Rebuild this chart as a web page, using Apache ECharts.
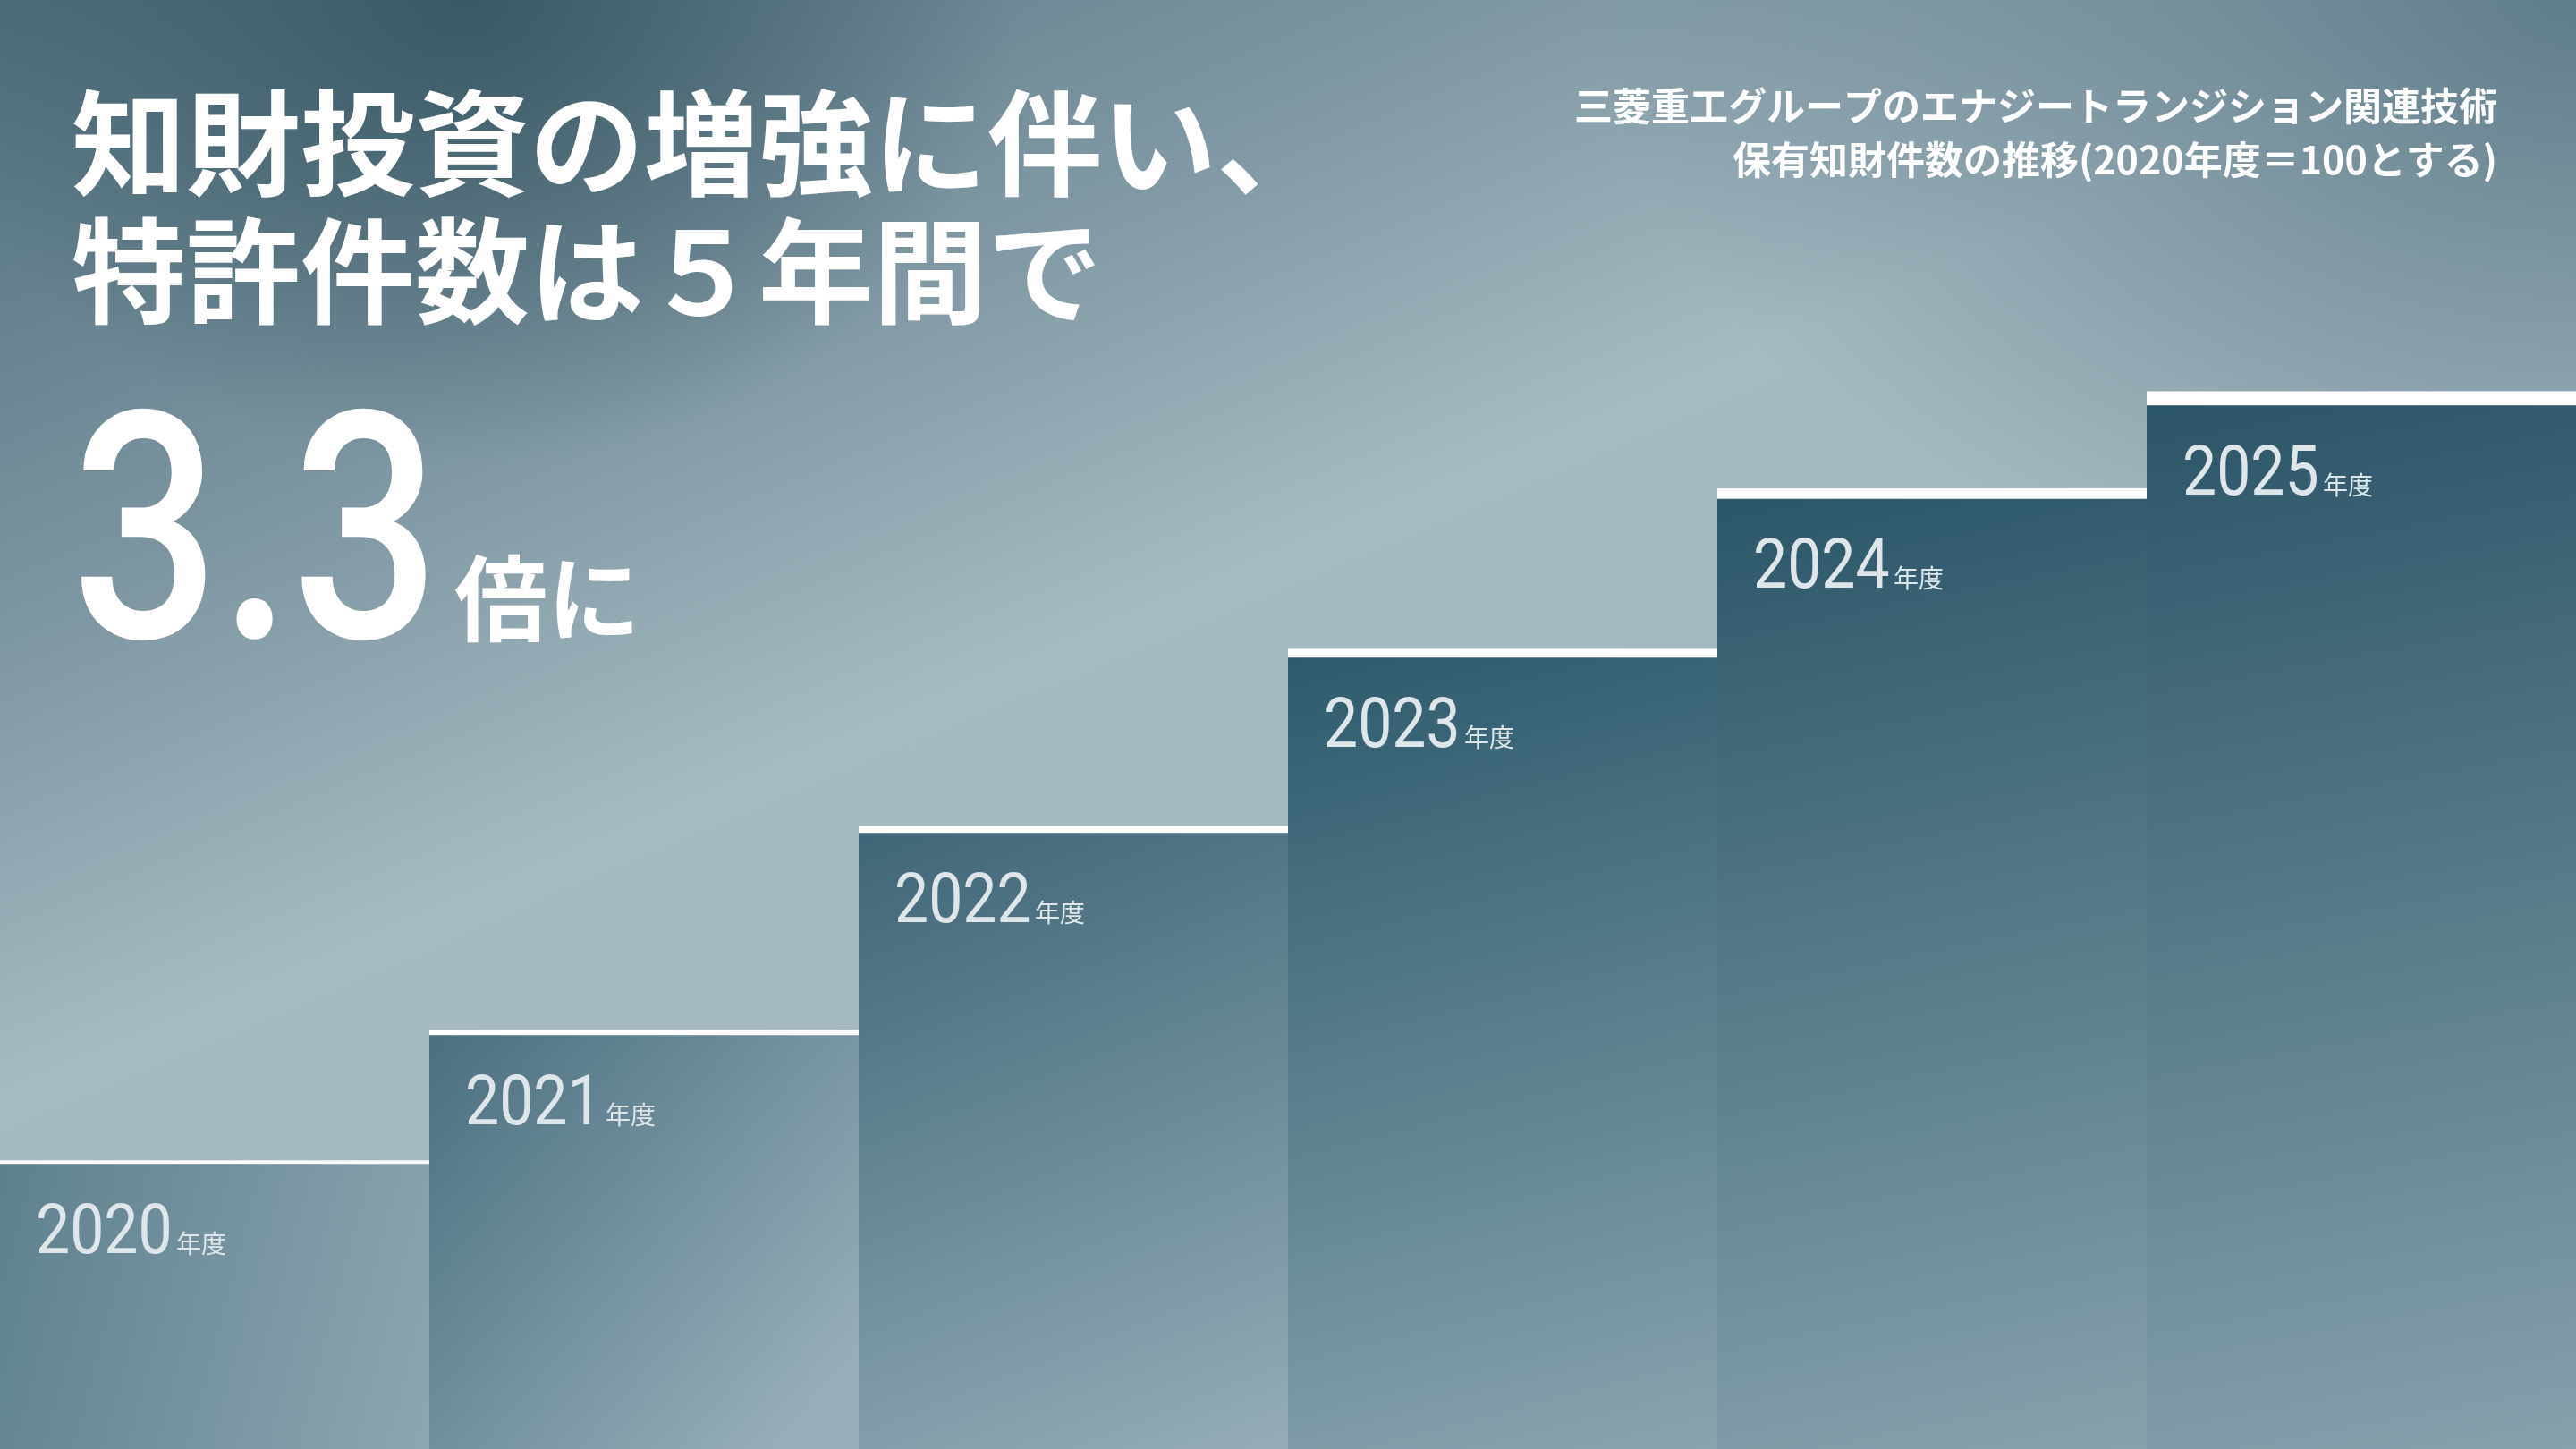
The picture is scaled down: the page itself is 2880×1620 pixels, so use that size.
<!DOCTYPE html>
<html>
<head>
    <meta charset="utf-8">
    <title>ECharts</title>
    <script src="https://cdn.jsdelivr.net/npm/echarts@6/dist/echarts.min.js"></script>
    <style>
        html, body { margin: 0; padding: 0; }
        body {
            width: 2880px; height: 1620px; overflow: hidden;
            background:
                radial-gradient(ellipse 620px 520px at 520px 0px, rgba(52, 82, 95, 0.85), rgba(52, 82, 95, 0) 100%),
                radial-gradient(ellipse 1100px 700px at 2880px 0px, rgba(88, 118, 132, 0.9), rgba(88, 118, 132, 0) 100%),
                linear-gradient(157deg, #4f6e7c 0%, #7f98a3 26%, #a6bac2 43%, #a2b6be 70%, #9cb1ba 100%);
        }
        /* 棒の0点が画面の少し下に来るよう、描画領域は画面より51px高い */
        #main { width: 2880px; height: 1671px; }
    </style>
</head>
<body>
<div id="main"></div>
<script type="text/javascript">
    // 年度と指数（2020年度＝100）
    var years = ['2020', '2021', '2022', '2023', '2024', '2025'];
    var values = [100, 139, 200, 253, 301, 330];

    // 見た目の設定（棒ごと）
    var capHeights = [4, 6, 8, 10, 12, 16];
    var topColors = ['#5e808e', '#4a6f80', '#3e6577', '#2c5a6c', '#2a5668', '#2a5467'];
    var gradDirs = [[1.32, 0.45], [0.95, 0.75], [0.64, 1.04], [0.58, 1.15], [0.56, 1.17], [0.56, 1.17]];

    var myChart = echarts.init(document.getElementById('main'));

    var option = {
        backgroundColor: 'transparent',
        animation: false,
        grid: { left: 0, right: 0, top: 26, bottom: 0 },
        xAxis: { type: 'category', data: years, show: false },
        yAxis: { type: 'value', min: 0, max: 440, show: false },
        graphic: [
            {
                type: 'text', x: 80, y: 160,
                style: { text: '知財投資の増強に伴い、', font: '700 128px "Noto Sans CJK JP"', fill: '#ffffff', verticalAlign: 'middle' }
            },
            {
                type: 'text', x: 80, y: 303,
                style: { text: '特許件数は５年間で', font: '700 128px "Noto Sans CJK JP"', fill: '#ffffff', verticalAlign: 'middle' }
            },
            {
                type: 'text', x: 80, y: 624, scaleX: 0.82,
                style: { text: '3.3', font: '500 355px Roboto', fill: '#ffffff', verticalAlign: 'middle' }
            },
            {
                type: 'text', x: 508, y: 669,
                style: { text: '倍に', font: '700 104px "Noto Sans CJK JP"', fill: '#ffffff', verticalAlign: 'middle' }
            },
            {
                type: 'text', x: 2792, y: 119,
                style: { text: '三菱重工グループのエナジートランジション関連技術', font: '700 43px "Noto Sans CJK JP"', fill: '#ffffff', align: 'right', verticalAlign: 'middle' }
            },
            {
                type: 'text', x: 2792, y: 179,
                style: { text: '保有知財件数の推移(2020年度＝100とする)', font: '700 43px "Noto Sans CJK JP"', fill: '#ffffff', align: 'right', verticalAlign: 'middle' }
            }
        ],
        series: [
            {
                type: 'custom',
                data: values.map(function (v, i) { return [i, v]; }),
                renderItem: function (params, api) {
                    var i = params.dataIndex;
                    var top = api.coord([api.value(0), api.value(1)]);
                    var base = api.coord([api.value(0), 0]);
                    var w = api.size([1, 0])[0];
                    var x = top[0] - w / 2;
                    var cap = capHeights[i];
                    var baseline = top[1] + cap + 103;
                    return {
                        type: 'group',
                        children: [
                            {
                                type: 'rect',
                                shape: { x: x, y: top[1], width: w, height: base[1] - top[1] },
                                style: {
                                    fill: new echarts.graphic.LinearGradient(0, 0, gradDirs[i][0], gradDirs[i][1], [
                                        { offset: 0, color: topColors[i] },
                                        { offset: 1, color: '#96aeb8' }
                                    ])
                                }
                            },
                            {
                                type: 'rect',
                                shape: { x: x, y: top[1], width: w, height: cap },
                                style: { fill: '#ffffff' }
                            },
                            {
                                type: 'text', x: x + 40, y: baseline - 23, scaleX: 0.87,
                                style: { text: years[i], font: '400 78px Roboto', fill: '#dfe6ea', verticalAlign: 'middle' }
                            },
                            {
                                type: 'text', x: x + 197, y: baseline - 14,
                                style: { text: '年度', font: '400 28px "Noto Sans CJK JP"', fill: '#dfe6ea', verticalAlign: 'middle' }
                            }
                        ]
                    };
                }
            }
        ]
    };
    myChart.setOption(option);
</script>
</body>
</html>
